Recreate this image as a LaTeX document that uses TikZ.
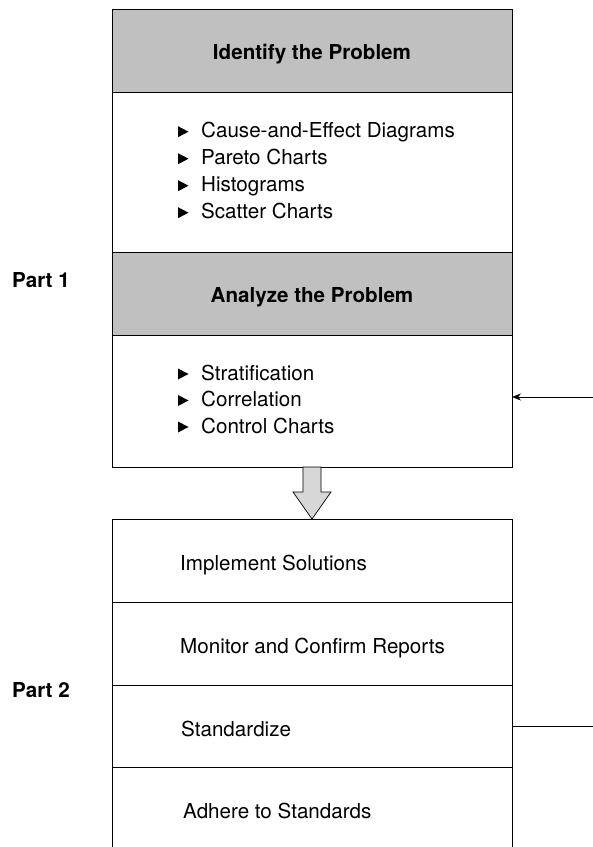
\documentclass[tikz,border=0pt]{standalone}
\usepackage{fontspec}
\setmainfont{TeX Gyre Heros}
\usetikzlibrary{arrows.meta}
\definecolor{hdrgray}{RGB}{192,192,192}
\definecolor{arrgray}{RGB}{215,215,215}
\begin{document}
\begin{tikzpicture}[x=1pt,y=-1pt,
  every node/.style={font=\fontsize{20.6}{27}\selectfont},
  sect/.style={draw=black,line width=0.8pt,minimum width=400pt,inner sep=0pt,outer sep=0pt},
  hdr/.style={sect,fill=hdrgray,font=\fontsize{20.6}{27}\selectfont\bfseries,text height=17.6pt,text depth=0pt},
  item/.style={anchor=base west,inner sep=0pt},
  part/.style={anchor=base west,inner sep=0pt,font=\fontsize{20.6}{27}\selectfont\bfseries},
  conn/.style={line width=0.7pt,draw=black},
  tri/.pic={\fill[black] (0,-12.5) -- (10.5,-7) -- (0,-1.5) -- cycle;}
]
\useasboundingbox (0,0) rectangle (593,847);
% Part 1
\node[hdr,minimum height=83pt] (idh) at (312,50.5) {Identify the Problem};
\node[sect,minimum height=160pt] (idl) at (312,172) {};
\node[hdr,minimum height=83pt] (anh) at (312,293.5) {Analyze the Problem};
\node[sect,minimum height=132pt] (anl) at (312,401) {};
\foreach \y/\t [count=\i] in {137.7/Cause-and-Effect Diagrams,164.7/Pareto Charts,191.7/Histograms,218.7/Scatter Charts}{
  \pic at (178,\y+1) {tri};
  \node[item] (ia\i) at (201,\y) {\t};
}
\foreach \y/\t [count=\i] in {380/Stratification,406.5/Correlation,433/Control Charts}{
  \pic at (178,\y+1) {tri};
  \node[item] (ib\i) at (201,\y) {\t};
}
\node[part] (p1) at (12,287) {Part 1};
% block arrow
\filldraw[fill=arrgray,draw=black,line width=0.7pt]
  (303,467) -- (321,467) -- (321,492) -- (331,492) -- (312,519) -- (293,492) -- (303,492) -- cycle;
% Part 2
\node[sect,minimum height=83pt] (s1) at (312,560.5) {};
\node[sect,minimum height=83pt] (s2) at (312,643.5) {};
\node[sect,minimum height=82pt] (s3) at (312,726) {};
\node[minimum width=400pt,minimum height=80pt,inner sep=0pt,outer sep=0pt] (s4) at (312,807) {};
\draw[conn,line width=0.8pt] (s4.south west) -- (s4.north west) -- (s4.north east) -- (s4.south east);
\node[item] (t1) at (180,570.7) {Implement Solutions};
\node[item] (t2) at (180,653.7) {Monitor and Confirm Reports};
\node[item] (t3) at (181,736.5) {Standardize};
\node[item] (t4) at (183,818.7) {Adhere to Standards};
\node[part] (p2) at (12,697.5) {Part 2};
% side connectors
\coordinate (rin) at (593,397);
\coordinate (rout) at (593,726);
\draw[conn,-{Stealth[length=9pt,width=7pt]}] (rin) -- (rin -| anl.east);
\draw[conn] (s3.east) -- (rout);
\end{tikzpicture}
\end{document}
